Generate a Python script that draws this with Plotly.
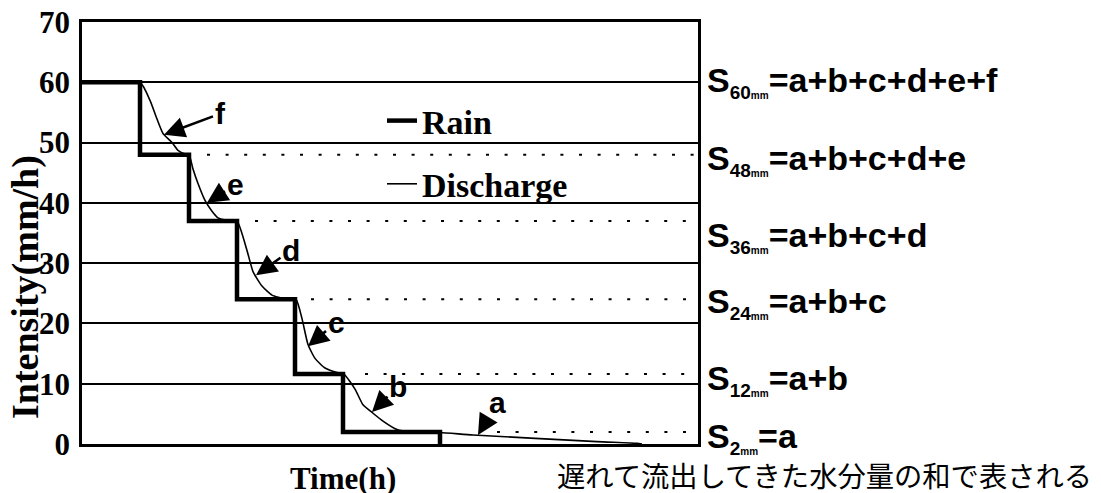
import plotly.graph_objects as go

# ---------------- data ----------------
# Rain hyetograph: step function (time in h, intensity in mm/h)
rain_time = [0.00, 1.16, 2.14, 3.10, 4.26, 5.22, 7.16]
rain_intensity = [60, 48, 37, 24, 11.6, 2, 0]

# Discharge hydrograph (smooth curve)
discharge_time = [0.00, 1.16, 1.36, 1.50, 1.62, 1.80, 1.92, 2.06,
                  2.14, 2.22, 2.32, 2.46, 2.60, 2.72, 2.92,
                  3.10, 3.30, 3.42, 3.60, 3.80, 4.06,
                  4.28, 4.40, 4.52, 4.66, 4.86, 5.12,
                  5.24, 5.46, 5.62, 5.82, 6.02, 6.30, 6.56,
                  7.16, 7.82, 10.30, 11.10, 11.20]
discharge_intensity = [60, 60, 57.0, 53.9, 51.5, 50.0, 48.7, 48.1,
                       48.0, 45.6, 43.2, 40.4, 38.6, 37.5, 37.1,
                       37.0, 32.1, 28.6, 26.2, 24.7, 24.1,
                       24.0, 20.8, 16.5, 14.2, 12.6, 11.8,
                       11.6, 9.1, 6.5, 5.1, 3.8, 2.4, 2.0,
                       1.9, 1.5, 0.4, 0.1, 0.0]

# Dotted reference levels (start time of each dotted line)
level_values = [48, 37, 24, 11.6, 2]
level_start = [2.50, 3.46, 4.58, 5.66, 8.30]
x_end = 12.32

# Arrow labels (component volumes)
arrow_labels = ["f", "e", "d", "c", "b", "a"]
arrow_head_time = [1.64, 2.50, 3.48, 4.52, 5.80, 7.92]
arrow_head_value = [51.3, 40.0, 28.0, 16.2, 5.3, 1.5]

# Storage labels on the right
storage_sub = ["60", "48", "36", "24", "12", "2"]
storage_rhs = ["a+b+c+d+e+f", "a+b+c+d+e", "a+b+c+d", "a+b+c", "a+b", "a"]

y_ticks = [0, 10, 20, 30, 40, 50, 60, 70]

# ---------------- figure ----------------
# page coordinates of the plot area (the page body adds an 8px offset)
OFF = 8
PAGE_W, PAGE_H = 1101, 493
PL, PR, PT, PB = 82, 698, 22, 444
W, H = PAGE_W - OFF, PAGE_H - OFF
L, T = PL - OFF, PT - OFF
R, B = W - (PR - OFF), H - (PB - OFF)
PW, PH = PR - PL, PB - PT

def px_x(px):
    return (px - PL) / PW

def px_y(py):
    return (PB - py) / PH

SERIF = "Liberation Serif, Times New Roman, serif"
SANS = "Liberation Sans, Arial, sans-serif"
CJK = "Noto Sans CJK JP, sans-serif"

fig = go.Figure()

# dotted level lines
for lv, st in zip(level_values, level_start):
    fig.add_trace(go.Scatter(
        x=[st, x_end], y=[lv, lv], mode="lines",
        line=dict(color="black", width=2, dash="3px,15.6px"),
        showlegend=False, hoverinfo="skip"))

fig.add_trace(go.Scatter(
    x=discharge_time, y=discharge_intensity, mode="lines", name="Discharge",
    line=dict(color="black", width=1.6, shape="spline", smoothing=0.5),
    legendgroup="d", legendrank=2))

fig.add_trace(go.Scatter(
    x=rain_time, y=rain_intensity, mode="lines", name="Rain",
    line=dict(color="black", width=4.5, shape="hv"),
    legendgroup="r", legendrank=1))

annotations = []
head_offsets = [(56, -21), (28, -18), (35, -25), (28, -24), (26, -26), (19, -32)]
for lab, hx, hy, (ax, ay) in zip(arrow_labels, arrow_head_time, arrow_head_value, head_offsets):
    annotations.append(dict(
        x=hx, y=hy, xref="x", yref="y", ax=ax, ay=ay,
        text=lab, showarrow=True, arrowhead=2, arrowsize=1.6, arrowwidth=2.6,
        arrowcolor="black", standoff=0, startstandoff=0,
        xanchor="center", yanchor="middle",
        font=dict(family=SANS, size=30, color="black", weight="bold")))

label_y_px = [82, 160, 237, 303, 380, 438]
for sub, rhs, py in zip(storage_sub, storage_rhs, label_y_px):
    annotations.append(dict(
        x=px_x(705), y=px_y(py), xref="paper", yref="paper",
        xanchor="left", yanchor="middle", showarrow=False,
        text=("S<sub><span style='font-size:19px'>" + sub +
              "</span><span style='font-size:10px'>mm</span></sub>=" + rhs),
        font=dict(family=SANS, size=34, color="black", weight="bold")))

annotations.append(dict(
    x=px_x(25), y=px_y(287), xref="paper", yref="paper", showarrow=False,
    xanchor="center", yanchor="middle",
    text="Intensity(mm/h)", textangle=-90,
    font=dict(family=SERIF, size=38, color="black", weight="bold")))
annotations.append(dict(
    x=px_x(343), y=px_y(479), xref="paper", yref="paper", showarrow=False,
    xanchor="center", yanchor="middle",
    text="Time(h)",
    font=dict(family=SERIF, size=31, color="black", weight="bold")))
annotations.append(dict(
    x=px_x(555), y=px_y(474), xref="paper", yref="paper", showarrow=False,
    xanchor="left", yanchor="middle",
    text="遅れて流出してきた水分量の和で表される",
    font=dict(family=CJK, size=28.3, color="black")))

fig.update_layout(
    width=W, height=H,
    margin=dict(l=L, r=R, t=T, b=B, autoexpand=False),
    paper_bgcolor="white", plot_bgcolor="white",
    annotations=annotations,
    showlegend=True,
    legend=dict(
        x=px_x(382), y=px_y(92), xanchor="left", yanchor="top",
        bgcolor="rgba(0,0,0,0)", borderwidth=0,
        font=dict(family=SERIF, size=34, color="black", weight="bold"),
        tracegroupgap=16, itemwidth=30),
    xaxis=dict(range=[0, x_end], showgrid=False, zeroline=False,
               showticklabels=False, ticks="", automargin=False,
               showline=True, linecolor="black", linewidth=2.5, mirror=True),
    yaxis=dict(range=[0, 70], tickvals=y_ticks, ticks="", ticklen=0,
               automargin=False, ticklabeloverflow="allow",
               showgrid=True, gridcolor="black", gridwidth=1.6, zeroline=False,
               showline=True, linecolor="black", linewidth=2.5, mirror=True,
               ticklabelstandoff=3,
               tickfont=dict(family=SERIF, size=31, color="black", weight="bold")),
)

fig.write_html("out.html")
